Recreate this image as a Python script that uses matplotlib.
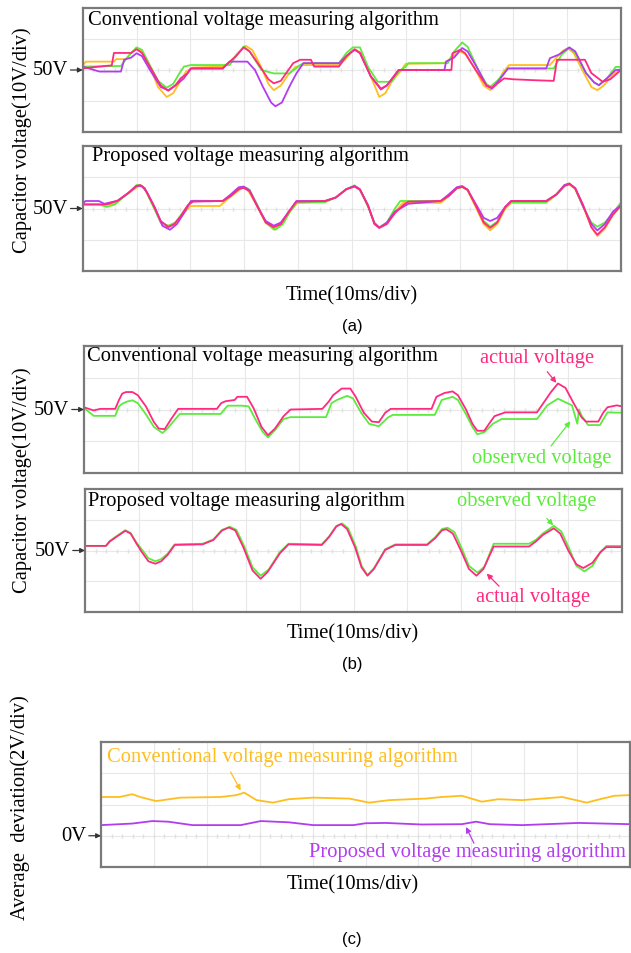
import numpy as np
from matplotlib import pyplot as plt

# traces are given as (time [div], voltage [div]) pairs, 10 div across the screen
a1_yellow = [(0, 0.15), (0.06, 0.27), (0.58, 0.27), (0.62, 0.35), (0.80, 0.35), (0.90, 0.55), (1.00, 0.70),
             (1.10, 0.60), (1.25, 0.10), (1.40, -0.55), (1.56, -0.87), (1.68, -0.75), (1.80, -0.40), (1.92, -0.05),
             (2.05, 0.08), (2.60, 0.11), (2.75, 0.27), (2.88, 0.55), (3.03, 0.78), (3.15, 0.65), (3.30, 0.15),
             (3.45, -0.45), (3.55, -0.65), (3.68, -0.50), (3.82, -0.15), (3.95, 0.10), (4.10, 0.16), (4.76, 0.16),
             (4.88, 0.35), (5.00, 0.60), (5.08, 0.65), (5.20, 0.50), (5.35, -0.20), (5.51, -0.87), (5.62, -0.75),
             (5.75, -0.35), (5.90, -0.05), (6.00, 0.20), (6.72, 0.22), (6.85, 0.40), (7.01, 0.60), (7.12, 0.50),
             (7.30, 0.00), (7.45, -0.50), (7.57, -0.65), (7.68, -0.50), (7.80, -0.10), (7.92, 0.16), (8.68, 0.16),
             (8.80, 0.40), (8.92, 0.62), (9.01, 0.70), (9.12, 0.55), (9.28, 0.00), (9.45, -0.55), (9.56, -0.65),
             (9.68, -0.50), (9.85, -0.15), (10, 0.05)]
a1_green = [(0, 0.11), (0.71, 0.13), (0.85, 0.45), (1.0, 0.73), (1.1, 0.65), (1.25, 0.15), (1.4, -0.35),
            (1.56, -0.57), (1.68, -0.45), (1.80, -0.10), (1.88, 0.11), (2.01, 0.16), (2.73, 0.16), (2.85, 0.45),
            (2.99, 0.76), (3.1, 0.60), (3.32, 0.0), (3.55, -0.11), (3.84, -0.11), (4.04, 0.16), (4.10, 0.22),
            (4.76, 0.22), (4.90, 0.55), (5.02, 0.73), (5.15, 0.73), (5.30, 0.10), (5.48, -0.38), (5.74, -0.38),
            (5.87, -0.05), (6.0, 0.11), (6.05, 0.22), (6.78, 0.22), (6.90, 0.60), (7.05, 0.89), (7.15, 0.75),
            (7.35, 0.0), (7.5, -0.45), (7.57, -0.54), (7.70, -0.35), (7.90, 0.05), (8.75, 0.05), (8.90, 0.50),
            (9.04, 0.71), (9.15, 0.55), (9.35, -0.10), (9.50, -0.40), (9.59, -0.49), (9.75, -0.25), (9.9, 0.10),
            (10, 0.10)]
a1_pink = [(0, 0.05), (0.31, 0.11), (0.54, 0.15), (0.58, 0.55), (0.90, 0.55), (1.0, 0.67), (1.10, 0.55),
           (1.25, 0.10), (1.45, -0.50), (1.59, -0.67), (1.72, -0.50), (1.82, -0.27), (1.95, -0.10), (2.01, 0.05),
           (2.60, 0.05), (2.73, 0.27), (2.85, 0.45), (2.99, 0.73), (3.1, 0.60), (3.30, 0.10), (3.45, -0.30),
           (3.55, -0.43), (3.68, -0.35), (3.91, 0.22), (4.04, 0.33), (4.24, 0.33), (4.30, 0.11), (4.76, 0.11),
           (4.90, 0.45), (5.05, 0.67), (5.15, 0.55), (5.35, -0.20), (5.54, -0.60), (5.65, -0.50), (5.87, 0.0),
           (6.85, 0.0), (6.87, 0.54), (7.01, 0.65), (7.10, 0.55), (7.30, 0.0), (7.50, -0.50), (7.60, -0.57),
           (7.83, -0.27), (8.00, -0.30), (8.40, -0.33), (8.75, -0.35), (8.81, 0.33), (9.33, 0.33), (9.45, -0.10),
           (9.66, -0.38), (9.80, -0.30), (10, 0.0)]
a1_purple = [(0, 0.11), (0.31, -0.05), (0.71, -0.05), (0.77, 0.33), (0.90, 0.40), (1.0, 0.54), (1.10, 0.45),
             (1.25, 0.0), (1.45, -0.55), (1.59, -0.65), (1.72, -0.50), (1.88, -0.27), (2.01, 0.05), (2.60, 0.05),
             (2.73, 0.27), (3.06, 0.27), (3.20, 0.0), (3.35, -0.55), (3.50, -1.05), (3.58, -1.17), (3.70, -1.05),
             (3.85, -0.50), (3.97, -0.11), (4.10, 0.22), (4.76, 0.22), (4.90, 0.45), (5.05, 0.65), (5.15, 0.55),
             (5.35, -0.20), (5.54, -0.63), (5.65, -0.50), (5.87, 0.0), (6.72, 0.0), (6.75, 0.27), (6.90, 0.40),
             (7.05, 0.71), (7.15, 0.60), (7.35, 0.0), (7.50, -0.50), (7.60, -0.60), (7.75, -0.30), (7.90, 0.05),
             (8.61, 0.05), (8.68, 0.38), (8.85, 0.50), (9.04, 0.73), (9.15, 0.60), (9.35, -0.10), (9.50, -0.40),
             (9.59, -0.49), (9.75, -0.25), (9.9, 0.0), (10, 0.0)]

a2_pink = [(0, 0.13), (0.45, 0.13), (0.65, 0.25), (0.85, 0.50), (1.0, 0.72), (1.07, 0.75), (1.15, 0.65),
           (1.30, 0.15), (1.45, -0.40), (1.59, -0.59), (1.70, -0.50), (1.82, -0.25), (1.95, 0.10), (2.05, 0.22),
           (2.60, 0.24), (2.75, 0.40), (2.90, 0.62), (2.99, 0.66), (3.10, 0.55), (3.25, 0.05), (3.40, -0.45),
           (3.55, -0.60), (3.68, -0.50), (3.85, -0.05), (3.97, 0.22), (4.50, 0.24), (4.70, 0.35), (4.90, 0.62),
           (5.05, 0.70), (5.15, 0.60), (5.30, 0.10), (5.42, -0.50), (5.51, -0.62), (5.65, -0.50), (5.80, -0.15),
           (5.95, 0.10), (6.05, 0.22), (6.65, 0.24), (6.80, 0.40), (6.95, 0.65), (7.05, 0.69), (7.15, 0.60),
           (7.30, 0.10), (7.45, -0.45), (7.57, -0.62), (7.70, -0.45), (7.85, 0.05), (7.96, 0.24), (8.61, 0.24),
           (8.80, 0.45), (8.95, 0.72), (9.04, 0.78), (9.15, 0.65), (9.30, 0.10), (9.45, -0.60), (9.56, -0.84),
           (9.70, -0.60), (9.85, -0.20), (10, 0.10)]
a2_green = [(0, 0.13), (0.30, 0.13), (0.45, 0.05), (0.60, 0.13), (0.85, 0.50), (1.0, 0.75), (1.07, 0.75),
            (1.15, 0.65), (1.30, 0.10), (1.45, -0.45), (1.59, -0.55), (1.72, -0.45), (1.85, -0.15), (2.00, 0.20),
            (2.05, 0.25), (2.60, 0.24), (2.75, 0.40), (2.90, 0.65), (2.99, 0.70), (3.10, 0.60), (3.25, 0.10),
            (3.40, -0.45), (3.58, -0.68), (3.72, -0.50), (3.85, -0.10), (3.97, 0.18), (4.50, 0.20), (4.70, 0.35),
            (4.90, 0.62), (5.05, 0.74), (5.15, 0.60), (5.30, 0.05), (5.42, -0.45), (5.51, -0.60), (5.65, -0.45),
            (5.80, 0.0), (5.90, 0.24), (6.65, 0.24), (6.80, 0.40), (6.95, 0.65), (7.05, 0.69), (7.15, 0.60),
            (7.30, 0.10), (7.45, -0.40), (7.57, -0.58), (7.70, -0.42), (7.85, 0.05), (7.96, 0.20), (8.61, 0.20),
            (8.80, 0.45), (8.95, 0.75), (9.04, 0.80), (9.15, 0.62), (9.30, 0.05), (9.45, -0.45), (9.56, -0.58),
            (9.70, -0.45), (9.85, -0.15), (10, 0.20)]
a2_yellow = [(0, 0.13), (0.55, 0.13), (0.70, 0.30), (0.90, 0.55), (1.05, 0.73), (1.15, 0.65), (1.30, 0.15),
             (1.45, -0.45), (1.59, -0.60), (1.72, -0.50), (1.85, -0.20), (2.00, 0.08), (2.55, 0.08), (2.65, 0.24),
             (2.80, 0.45), (2.95, 0.65), (3.05, 0.65), (3.20, 0.20), (3.40, -0.45), (3.55, -0.68), (3.70, -0.50),
             (3.85, -0.10), (4.00, 0.20), (4.50, 0.24), (4.70, 0.35), (4.90, 0.62), (5.05, 0.72), (5.15, 0.60),
             (5.30, 0.10), (5.42, -0.48), (5.51, -0.60), (5.65, -0.48), (5.80, -0.10), (5.95, 0.18), (6.65, 0.18),
             (6.80, 0.40), (6.95, 0.65), (7.05, 0.69), (7.15, 0.58), (7.30, 0.05), (7.45, -0.50), (7.57, -0.70),
             (7.70, -0.50), (7.85, 0.0), (7.96, 0.18), (8.61, 0.18), (8.80, 0.45), (8.95, 0.72), (9.04, 0.78),
             (9.15, 0.62), (9.30, 0.05), (9.45, -0.60), (9.56, -0.88), (9.70, -0.65), (9.85, -0.20), (10, 0.08)]
a2_purple = [(0, 0.13), (0.05, 0.24), (0.30, 0.24), (0.40, 0.15), (0.65, 0.25), (0.85, 0.50), (1.0, 0.72),
             (1.10, 0.72), (1.20, 0.50), (1.35, 0.0), (1.48, -0.55), (1.62, -0.68), (1.75, -0.50), (1.88, -0.15),
             (2.01, 0.24), (2.60, 0.24), (2.75, 0.45), (2.90, 0.68), (2.99, 0.70), (3.10, 0.58), (3.25, 0.05),
             (3.40, -0.40), (3.55, -0.55), (3.68, -0.45), (3.85, -0.05), (3.97, 0.24), (4.50, 0.24), (4.70, 0.35),
             (4.90, 0.62), (5.05, 0.72), (5.15, 0.62), (5.30, 0.10), (5.42, -0.48), (5.51, -0.62), (5.65, -0.45),
             (5.80, -0.10), (5.95, 0.05), (6.05, 0.15), (6.65, 0.24), (6.80, 0.45), (6.95, 0.68), (7.05, 0.72),
             (7.15, 0.60), (7.30, 0.15), (7.45, -0.30), (7.57, -0.40), (7.70, -0.30), (7.85, 0.05), (7.96, 0.24),
             (8.61, 0.24), (8.80, 0.45), (8.95, 0.75), (9.04, 0.80), (9.15, 0.65), (9.30, 0.05), (9.45, -0.50),
             (9.56, -0.70), (9.70, -0.50), (9.85, -0.10), (10, 0.10)]

b1_actual = [(0, 0.07), (0.18, -0.03), (0.30, 0.02), (0.58, 0.02), (0.65, 0.30), (0.71, 0.50), (0.78, 0.55),
             (0.90, 0.55), (1.00, 0.45), (1.15, 0.10), (1.30, -0.40), (1.39, -0.60), (1.50, -0.62), (1.62, -0.30),
             (1.75, 0.02), (2.47, 0.02), (2.55, 0.20), (2.63, 0.26), (2.80, 0.30), (2.85, 0.40), (3.03, 0.40),
             (3.15, 0.05), (3.30, -0.55), (3.42, -0.81), (3.55, -0.60), (3.71, -0.21), (3.84, 0.0), (4.43, 0.02),
             (4.55, 0.25), (4.63, 0.45), (4.79, 0.66), (4.95, 0.66), (5.05, 0.40), (5.20, -0.10), (5.35, -0.38),
             (5.48, -0.40), (5.60, -0.10), (5.70, 0.02), (6.46, 0.02), (6.55, 0.40), (6.70, 0.52), (6.85, 0.57),
             (6.95, 0.45), (7.10, 0.0), (7.22, -0.45), (7.31, -0.67), (7.44, -0.67), (7.55, -0.40), (7.63, -0.21),
             (7.83, -0.09), (8.42, -0.09), (8.55, 0.23), (8.68, 0.55), (8.81, 0.82), (8.95, 0.68), (9.10, 0.20),
             (9.25, -0.25), (9.33, -0.38), (9.56, -0.38), (9.65, -0.10), (9.73, 0.07), (9.90, 0.13), (10, 0.10)]
b1_observed = [(0, 0.05), (0.18, -0.20), (0.58, -0.20), (0.65, 0.10), (0.71, 0.18), (0.80, 0.25), (0.90, 0.29),
               (1.00, 0.20), (1.15, -0.15), (1.30, -0.55), (1.46, -0.74), (1.55, -0.60), (1.70, -0.30),
               (1.78, -0.14), (2.54, -0.14), (2.67, 0.12), (2.93, 0.12), (3.06, 0.10), (3.20, -0.35), (3.32, -0.70),
               (3.42, -0.88), (3.55, -0.65), (3.71, -0.30), (3.84, -0.24), (4.50, -0.24), (4.60, 0.20), (4.70, 0.30),
               (4.89, 0.43), (5.00, 0.35), (5.15, -0.10), (5.30, -0.45), (5.48, -0.53), (5.65, -0.25),
               (5.74, -0.17), (6.52, -0.17), (6.65, 0.30), (6.85, 0.40), (6.95, 0.30), (7.10, -0.15), (7.22, -0.55),
               (7.31, -0.78), (7.44, -0.72), (7.60, -0.45), (7.76, -0.30), (8.42, -0.30), (8.61, 0.13), (8.81, 0.34),
               (9.07, 0.13), (9.17, -0.45), (9.20, 0.0), (9.25, -0.20), (9.37, -0.49), (9.59, -0.49), (9.73, -0.09),
               (9.90, -0.10), (10, -0.10)]

b2_actual = [(0, 0.15), (0.39, 0.15), (0.46, 0.29), (0.59, 0.45), (0.75, 0.64), (0.85, 0.55), (0.95, 0.25),
             (1.05, -0.03), (1.18, -0.35), (1.31, -0.43), (1.42, -0.35), (1.54, -0.14), (1.67, 0.18), (2.19, 0.20),
             (2.39, 0.34), (2.55, 0.65), (2.68, 0.75), (2.80, 0.65), (2.95, 0.10), (3.12, -0.65), (3.27, -0.92),
             (3.40, -0.70), (3.63, -0.09), (3.79, 0.20), (4.41, 0.18), (4.55, 0.45), (4.68, 0.78), (4.77, 0.86),
             (4.88, 0.70), (5.03, 0.10), (5.15, -0.55), (5.26, -0.82), (5.38, -0.60), (5.59, 0.02), (5.78, 0.18),
             (6.37, 0.18), (6.52, 0.40), (6.65, 0.66), (6.73, 0.69), (6.85, 0.55), (7.00, 0.00), (7.15, -0.60),
             (7.29, -0.82), (7.42, -0.60), (7.61, 0.13), (8.27, 0.13), (8.40, 0.30), (8.53, 0.51), (8.73, 0.72),
             (8.85, 0.55), (9.00, 0.0), (9.15, -0.45), (9.28, -0.57), (9.45, -0.40), (9.60, -0.05), (9.71, 0.11),
             (10, 0.11)]
b2_observed = [(0, 0.15), (0.39, 0.15), (0.46, 0.31), (0.59, 0.47), (0.75, 0.66), (0.85, 0.57), (0.95, 0.28),
               (1.05, 0.05), (1.18, -0.25), (1.31, -0.35), (1.42, -0.28), (1.54, -0.10), (1.67, 0.20), (2.19, 0.22),
               (2.39, 0.36), (2.55, 0.67), (2.70, 0.77), (2.82, 0.67), (2.97, 0.12), (3.12, -0.55), (3.27, -0.82),
               (3.42, -0.62), (3.63, -0.05), (3.79, 0.22), (4.41, 0.20), (4.55, 0.47), (4.68, 0.80), (4.79, 0.88),
               (4.90, 0.72), (5.05, 0.10), (5.15, -0.50), (5.26, -0.80), (5.38, -0.58), (5.59, 0.04), (5.78, 0.20),
               (6.37, 0.20), (6.52, 0.43), (6.65, 0.70), (6.75, 0.74), (6.88, 0.60), (7.02, 0.05), (7.15, -0.50),
               (7.31, -0.72), (7.44, -0.52), (7.61, 0.22), (8.27, 0.22), (8.40, 0.35), (8.53, 0.56), (8.73, 0.80),
               (8.87, 0.62), (9.02, 0.05), (9.15, -0.50), (9.30, -0.68), (9.45, -0.50), (9.60, -0.05), (9.71, 0.15),
               (10, 0.15)]

c_conventional = [(0, 1.24), (0.35, 1.24), (0.51, 1.30), (0.59, 1.33), (0.74, 1.24), (1.04, 1.11), (1.50, 1.22),
                  (2.26, 1.24), (2.56, 1.30), (2.71, 1.38), (2.94, 1.14), (3.25, 1.06), (3.55, 1.17), (4.01, 1.22),
                  (4.69, 1.19), (5.07, 1.06), (5.45, 1.14), (6.14, 1.19), (6.44, 1.24), (6.82, 1.28), (7.20, 1.09),
                  (7.51, 1.17), (7.96, 1.14), (8.72, 1.24), (9.18, 1.06), (9.48, 1.19), (9.71, 1.28), (10, 1.30)]
c_proposed = [(0, 0.34), (0.59, 0.39), (0.97, 0.47), (1.27, 0.45), (1.73, 0.34), (2.64, 0.34), (3.02, 0.47),
              (3.55, 0.43), (4.01, 0.34), (4.77, 0.34), (5.00, 0.40), (5.38, 0.41), (6.06, 0.36), (6.82, 0.37),
              (7.09, 0.45), (7.35, 0.37), (7.96, 0.34), (9.03, 0.41), (10, 0.37)]

YELLOW = "#FFBE1E"
GREEN = "#5CEB3C"
PINK = "#FF2A80"
PURPLE = "#B23CF0"

SERIF = ["Liberation Serif", "DejaVu Serif"]
FS = 14.8

W, H = 631, 954
fig = plt.figure(figsize=(W/100, H/100), dpi=100)


def scope_axes(x0, y0, x1, y1, ylim=(-2, 2)):
    ax = fig.add_axes([x0/W, 1 - y1/H, (x1 - x0)/W, (y1 - y0)/H])
    ax.set_xlim(0, 10)
    ax.set_ylim(*ylim)
    for x in range(1, 10):
        ax.axvline(x, color="#E8E8E8", lw=0.8, zorder=0)
    for y in range(ylim[0] + 1, ylim[1]):
        ax.axhline(y, color="#E8E8E8", lw=0.8, zorder=0)
    # little tick marks along the centre line
    ticks = np.arange(0.2, 10, 0.2)
    ax.plot(ticks, np.zeros(len(ticks)), ls="none", marker="|", ms=3, color="#E0E0E0", zorder=0)
    ax.set_xticks([])
    ax.set_yticks([])
    for s in ax.spines.values():
        s.set_color("#7A7A7A")
        s.set_linewidth(1.6)
    return ax


def trace(ax, pts, color, lw=1.3):
    t, v = np.array(pts).T
    ax.plot(t, v, color=color, lw=lw, solid_joinstyle="round")


def level_mark(ax, text, y):
    ax.annotate(text, xy=(0, y), xycoords=("axes fraction", "data"), xytext=(-15, 0),
                textcoords="offset pixels", ha="right", va="center", fontsize=FS, family=SERIF,
                arrowprops=dict(arrowstyle="-|>", color="#333333", lw=0.9, mutation_scale=7,
                                shrinkA=0, shrinkB=0))


def note(ax, text, xy, color):
    ax.text(xy[0], xy[1], text, color=color, fontsize=FS, family=SERIF, ha="center", va="center")


def pointer(ax, start, end, color):
    ax.annotate("", xy=end, xytext=start,
                arrowprops=dict(arrowstyle="-|>", color=color, lw=0.9, mutation_scale=8,
                                shrinkA=0, shrinkB=0))


# (a) four traces, conventional vs proposed
ax = scope_axes(82.7, 9, 621, 133)
trace(ax, a1_yellow, YELLOW)
trace(ax, a1_green, GREEN)
trace(ax, a1_purple, PURPLE)
trace(ax, a1_pink, PINK)
ax.text(0.1, 1.62, "Conventional voltage measuring algorithm", fontsize=FS, family=SERIF, va="center")
level_mark(ax, "50V", 0)

ax = scope_axes(82.7, 147, 621, 272)
trace(ax, a2_yellow, YELLOW)
trace(ax, a2_green, GREEN)
trace(ax, a2_purple, PURPLE)
trace(ax, a2_pink, PINK)
ax.text(0.17, 1.68, "Proposed voltage measuring algorithm", fontsize=FS, family=SERIF, va="center")
level_mark(ax, "50V", 0)

fig.text(22/W, 1 - 140/H, "Capacitor voltage(10V/div)", rotation=90, ha="center", va="center",
         fontsize=FS, family=SERIF)
fig.text(352/W, 1 - 296/H, "Time(10ms/div)", ha="center", va="center", fontsize=FS, family=SERIF)
fig.text(352/W, 1 - 327/H, "(a)", ha="center", va="center", fontsize=12, family="Liberation Sans")

# (b) actual vs observed voltage
ax = scope_axes(84, 347, 622, 474)
trace(ax, b1_observed, GREEN)
trace(ax, b1_actual, PINK)
ax.text(0.06, 1.7, "Conventional voltage measuring algorithm", fontsize=FS, family=SERIF, va="center")
note(ax, "actual voltage", (8.42, 1.65), PINK)
pointer(ax, (8.61, 1.19), (8.78, 0.84), PINK)
note(ax, "observed voltage", (8.5, -1.5), GREEN)
pointer(ax, (8.68, -1.15), (9.04, -0.37), GREEN)
level_mark(ax, "50V", 0)

ax = scope_axes(85, 490, 622, 613)
trace(ax, b2_observed, GREEN)
trace(ax, b2_actual, PINK)
ax.text(0.06, 1.63, "Proposed voltage measuring algorithm", fontsize=FS, family=SERIF, va="center")
note(ax, "observed voltage", (8.22, 1.61), GREEN)
pointer(ax, (8.6, 1.04), (8.72, 0.82), GREEN)
note(ax, "actual voltage", (8.35, -1.48), PINK)
pointer(ax, (7.71, -1.16), (7.48, -0.75), PINK)
level_mark(ax, "50V", 0)

fig.text(22/W, 1 - 480/H, "Capacitor voltage(10V/div)", rotation=90, ha="center", va="center",
         fontsize=FS, family=SERIF)
fig.text(353/W, 1 - 634/H, "Time(10ms/div)", ha="center", va="center", fontsize=FS, family=SERIF)
fig.text(352/W, 1 - 665/H, "(b)", ha="center", va="center", fontsize=12, family="Liberation Sans")

# (c) average deviation
ax = scope_axes(101, 743, 630, 868, ylim=(-1, 3))
trace(ax, c_conventional, YELLOW)
trace(ax, c_proposed, PURPLE)
ax.text(0.11, 2.52, "Conventional voltage measuring algorithm", color=YELLOW, fontsize=FS, family=SERIF,
        va="center")
pointer(ax, (2.45, 2.04), (2.64, 1.45), YELLOW)
ax.text(3.93, -0.49, "Proposed voltage measuring algorithm", color=PURPLE, fontsize=FS, family=SERIF,
        va="center")
pointer(ax, (7.05, -0.24), (6.9, 0.28), PURPLE)
level_mark(ax, "0V", 0)

fig.text(20/W, 1 - 808/H, "Average  deviation(2V/div)", rotation=90, ha="center", va="center",
         fontsize=FS, family=SERIF)
fig.text(353/W, 1 - 885/H, "Time(10ms/div)", ha="center", va="center", fontsize=FS, family=SERIF)
fig.text(352/W, 1 - 940/H, "(c)", ha="center", va="center", fontsize=12, family="Liberation Sans")

plt.savefig("out.png", dpi=100)
